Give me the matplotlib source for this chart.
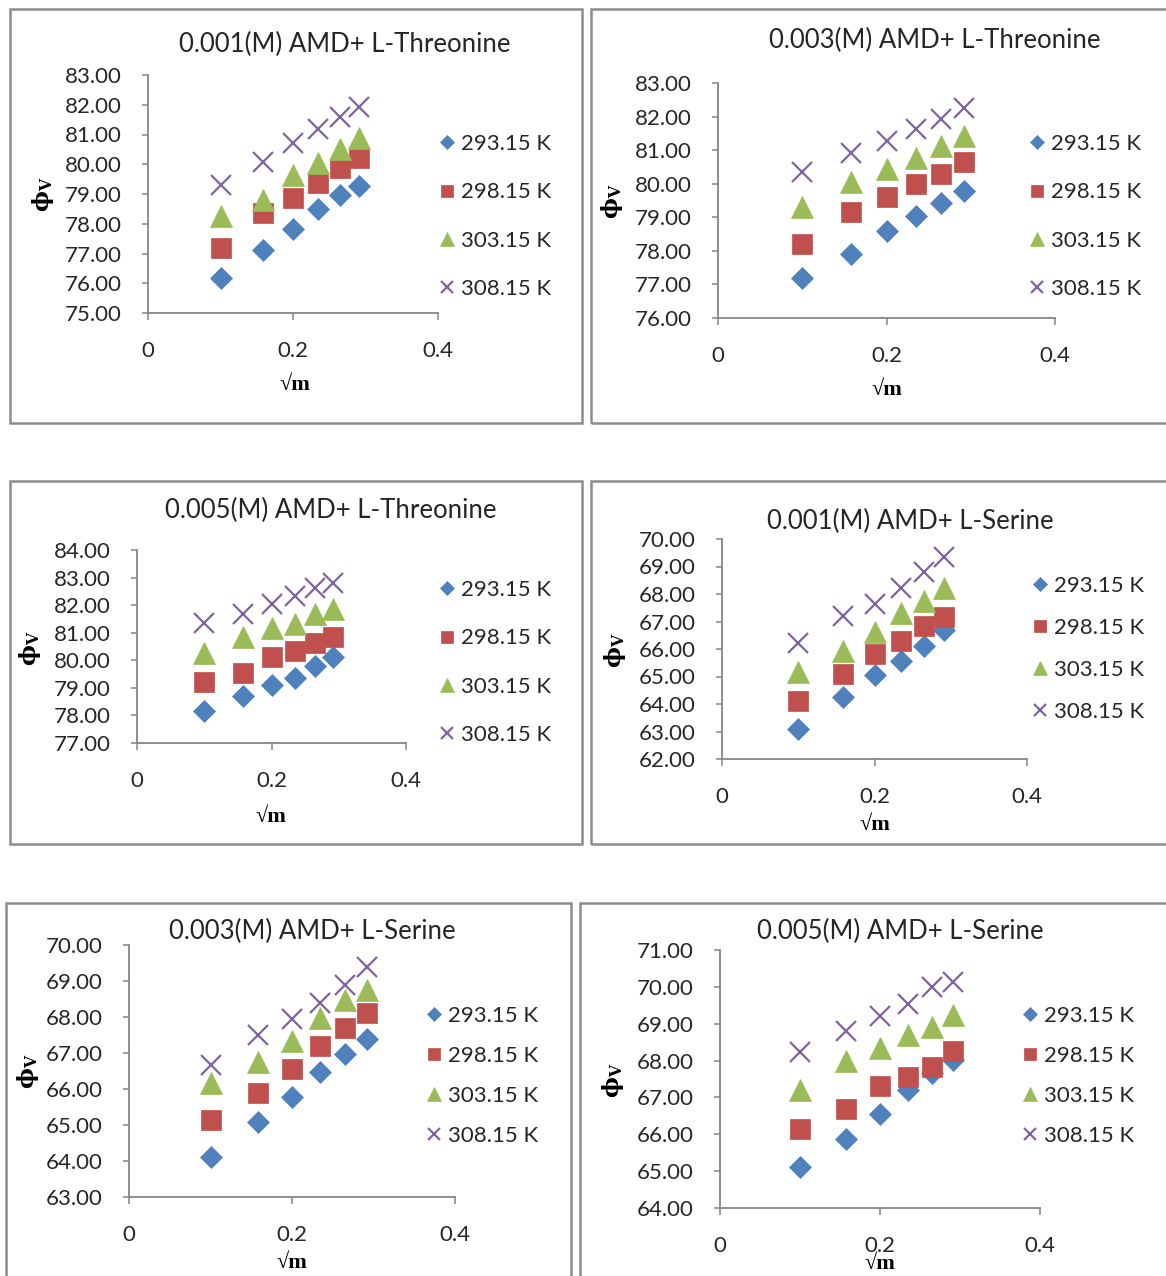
import matplotlib
matplotlib.use("Agg")
import matplotlib.pyplot as plt
from matplotlib.patches import Rectangle

# ---- data -------------------------------------------------------------
sqrt_m = [0.1, 0.1581, 0.2, 0.2345, 0.2646, 0.2915]
temps = ["293.15 K", "298.15 K", "303.15 K", "308.15 K"]

thr_001 = [
    [76.18, 77.12, 77.82, 78.50, 78.97, 79.27],
    [77.18, 78.36, 78.87, 79.37, 79.87, 80.20],
    [78.27, 78.80, 79.64, 80.04, 80.50, 80.88],
    [79.30, 80.07, 80.71, 81.20, 81.59, 81.92],
]
thr_003 = [
    [77.19, 77.90, 78.59, 79.04, 79.43, 79.78],
    [78.20, 79.15, 79.60, 79.99, 80.29, 80.65],
    [79.30, 80.05, 80.44, 80.77, 81.12, 81.42],
    [80.35, 80.92, 81.27, 81.63, 81.93, 82.26],
]
thr_005 = [
    [78.16, 78.70, 79.10, 79.36, 79.80, 80.12],
    [79.20, 79.54, 80.12, 80.34, 80.63, 80.84],
    [80.26, 80.84, 81.17, 81.32, 81.68, 81.86],
    [81.35, 81.68, 82.04, 82.33, 82.62, 82.80],
]
ser_001 = [
    [63.09, 64.26, 65.05, 65.56, 66.11, 66.69],
    [64.11, 65.09, 65.82, 66.29, 66.84, 67.16],
    [65.16, 65.93, 66.62, 67.31, 67.75, 68.22],
    [66.22, 67.20, 67.64, 68.22, 68.80, 69.35],
]
ser_003 = [
    [64.11, 65.08, 65.78, 66.47, 66.97, 67.39],
    [65.14, 65.89, 66.56, 67.19, 67.69, 68.11],
    [66.17, 66.75, 67.33, 67.97, 68.47, 68.75],
    [66.67, 67.50, 67.94, 68.39, 68.89, 69.39],
]
ser_005 = [
    [65.11, 65.87, 66.55, 67.20, 67.66, 68.02],
    [66.14, 66.69, 67.31, 67.55, 67.83, 68.26],
    [67.20, 67.99, 68.34, 68.69, 68.91, 69.24],
    [68.23, 68.80, 69.20, 69.53, 69.99, 70.13],
]

titles = [
    "0.001(M) AMD+ L-Threonine",
    "0.003(M) AMD+ L-Threonine",
    "0.005(M) AMD+ L-Threonine",
    "0.001(M) AMD+ L-Serine",
    "0.003(M) AMD+ L-Serine",
    "0.005(M) AMD+ L-Serine",
]
series_sets = [thr_001, thr_003, thr_005, ser_001, ser_003, ser_005]
y_ranges = [(75, 83), (76, 83), (77, 84), (62, 70), (63, 70), (64, 71)]
x_ticks = [0, 0.2, 0.4]
x_tick_labels = ["0", "0.2", "0.4"]

# ---- styling ----------------------------------------------------------
W, H = 1166, 1276
plt.rcParams["font.family"] = ["Lato", "DejaVu Sans"]
plt.rcParams["mathtext.fontset"] = "custom"
plt.rcParams["mathtext.rm"] = "DejaVu Serif"
plt.rcParams["mathtext.bf"] = "DejaVu Serif:bold"
TXT = "#262626"
SPINE = "#868686"
BORDER = "#8c8c8c"
TICK_FS = 16
LEG_FS = 16
TITLE_FS = 18.5
styles = [
    dict(marker="D", color="#4F81BD", ms=11.5, mew=0.5),
    dict(marker="s", color="#C0504D", ms=15, mew=0.5),
    dict(marker="^", color="#9BBB59", ms=16, mew=0.5),
    dict(marker="x", color="#8064A2", ms=15, mew=1.6),
]

# layout in pixels:
# axes (x0, x1, ytop, ybot), border (l, t, r, b), title xy, ylabel xy,
# xlabel xy, legend (marker x, first row y, row spacing)
layout = [
    dict(ax=(148, 438, 75, 313), box=(10, 9, 582, 423), title=(345, 44),
         ylab=(43, 194), xlab=(295, 385), leg=(447, 144, 48.3)),
    dict(ax=(718, 1055, 83, 318), box=(591, 9, 1172, 423), title=(935, 40),
         ylab=(612, 201), xlab=(887, 390), leg=(1037, 144, 48.3)),
    dict(ax=(137, 406, 550, 743), box=(10, 481, 582, 844), title=(331, 510),
         ylab=(30, 648), xlab=(271, 817), leg=(447, 590, 48.3)),
    dict(ax=(722, 1027, 539, 759), box=(591, 481, 1172, 844), title=(910, 521),
         ylab=(615, 650), xlab=(875, 825), leg=(1040, 586, 42)),
    dict(ax=(129, 455, 945, 1197), box=(6, 903, 571, 1285), title=(312, 931),
         ylab=(28, 1071), xlab=(292, 1263), leg=(434, 1016, 40)),
    dict(ax=(720, 1040, 950, 1208), box=(580, 903, 1172, 1285), title=(900, 931),
         ylab=(613, 1080), xlab=(880, 1264), leg=(1030, 1016, 40)),
]

fig = plt.figure(figsize=(W / 100, H / 100), dpi=100)
fig.patch.set_facecolor("white")


def fx(x):
    return x / W


def fy(y):
    return 1 - y / H


for data, title, yr, lay in zip(series_sets, titles, y_ranges, layout):
    # panel frame
    l, t, r, b = lay["box"]
    fig.add_artist(Rectangle((fx(l), fy(b)), fx(r - l), (b - t) / H,
                             transform=fig.transFigure, fill=False,
                             edgecolor=BORDER, linewidth=1.8, zorder=0))

    x0, x1, yt, yb = lay["ax"]
    ax = fig.add_axes([fx(x0), fy(yb), fx(x1 - x0), (yb - yt) / H])
    handles = []
    for vals, st, lab in zip(data, styles, temps):
        h, = ax.plot(sqrt_m, vals, linestyle="none", marker=st["marker"],
                     ms=st["ms"], mew=st["mew"], color=st["color"],
                     mfc=st["color"], mec=st["color"], label=lab,
                     clip_on=False)
        handles.append(h)

    ax.set_xlim(0, 0.4)
    ax.set_ylim(*yr)
    ax.set_xticks(x_ticks)
    ax.set_xticklabels(x_tick_labels)
    ax.set_yticks(range(yr[0], yr[1] + 1))
    ax.set_yticklabels([f"{v:.2f}" for v in range(yr[0], yr[1] + 1)])
    for s in ("top", "right"):
        ax.spines[s].set_visible(False)
    for s in ("left", "bottom"):
        ax.spines[s].set_color(SPINE)
        ax.spines[s].set_linewidth(1.3)
    ax.tick_params(axis="y", direction="out", length=4, width=1.1,
                   color=SPINE, labelsize=TICK_FS, labelcolor=TXT, pad=15)
    ax.tick_params(axis="x", direction="out", length=5, width=1.1,
                   color=SPINE, labelsize=TICK_FS, labelcolor=TXT, pad=15)
    ax.patch.set_alpha(0)

    fig.text(fx(lay["title"][0]), fy(lay["title"][1]), title, ha="center",
             va="center", fontsize=TITLE_FS, color=TXT)
    fig.text(fx(lay["ylab"][0]), fy(lay["ylab"][1]), r"$\mathbf{ϕ_V}$",
             ha="center", va="center", rotation=90, fontsize=16,
             color="black", math_fontfamily="custom")
    fig.text(fx(lay["xlab"][0]), fy(lay["xlab"][1]), "√m", ha="center",
             va="center", fontsize=16, fontweight="bold", color="black",
             family=["Liberation Serif", "DejaVu Serif"])

    mx, ry, sp = lay["leg"]
    fs_px = LEG_FS * 100 / 72
    hl = 0.75
    left_px = mx - 0.5 * hl * fs_px
    centre_y = ry + 1.5 * sp
    ax.legend(handles=handles, loc="center left",
              bbox_to_anchor=(fx(left_px), fy(centre_y)),
              bbox_transform=fig.transFigure, frameon=False, fontsize=LEG_FS,
              labelcolor=TXT, handlelength=hl, handletextpad=0.25,
              labelspacing=(sp - fs_px + 2.2) / fs_px, borderpad=0,
              borderaxespad=0, markerscale=0.62, numpoints=1)

fig.savefig("out.png", dpi=100, facecolor="white")
